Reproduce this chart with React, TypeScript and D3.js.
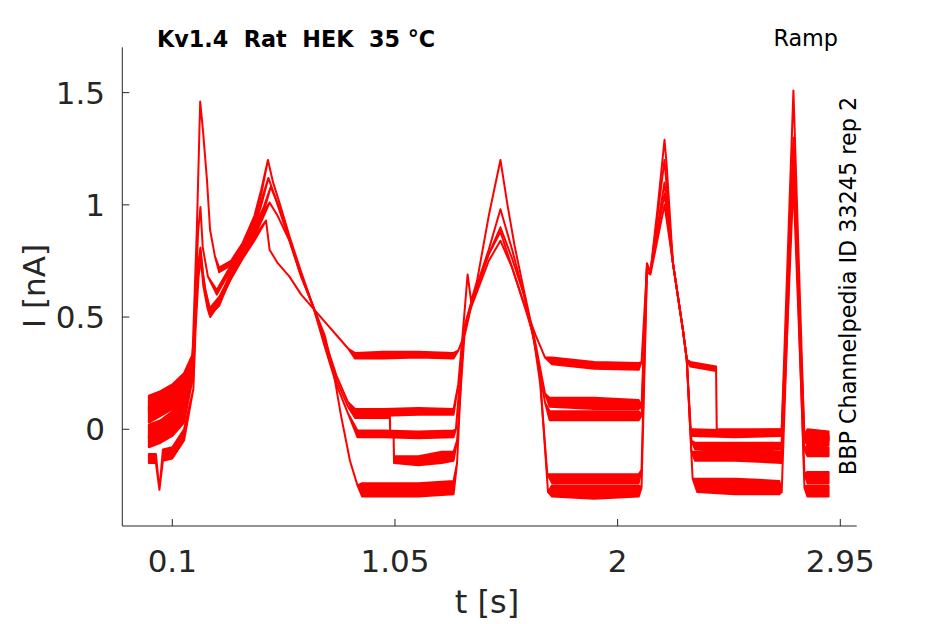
import React from 'react';
import * as d3 from 'd3';

// [t (s), low (nA), high (nA)] — high omitted where the trace is a clean line
type P = [number, number] | [number, number, number];

const xTicks = [0.1, 1.05, 2, 2.95];
const xTickLabels = ['0.1', '1.05', '2', '2.95'];
const yTicks = [0, 0.5, 1, 1.5];
const yTickLabels = ['0', '0.5', '1', '1.5'];

const titleText = 'Kv1.4  Rat  HEK  35 °C';
const protocolText = 'Ramp';
const sideText = 'BBP Channelpedia ID 33245 rep 2';
const xLabel = 't [s]';
const yLabel = 'I [nA]';

// sweep ending on the highest plateaus
const sweep1: P[] = [
  [0.0, 0.08, 0.15], [0.05, 0.1, 0.17], [0.1, 0.13, 0.2], [0.15, 0.18, 0.25], [0.185, 0.3, 0.33],
  [0.197, 0.46], [0.21, 0.72], [0.22, 0.81], [0.23, 0.7], [0.24, 0.62], [0.26, 0.52, 0.54],
  [0.3, 0.57, 0.59], [0.35, 0.67, 0.69], [0.4, 0.76, 0.78], [0.45, 0.84, 0.86], [0.5, 0.93],
  [0.515, 0.8], [0.55, 0.74], [0.6, 0.68], [0.65, 0.6], [0.7, 0.54], [0.75, 0.48], [0.8, 0.42],
  [0.85, 0.36], [0.88, 0.315, 0.34], [1.0, 0.315, 0.345], [1.15, 0.32, 0.345], [1.3, 0.315, 0.34],
  [1.32, 0.35], [1.35, 0.43], [1.38, 0.57], [1.45, 0.78], [1.5, 0.88], [1.55, 0.72], [1.6, 0.56],
  [1.65, 0.42], [1.69, 0.32], [1.72, 0.29, 0.32], [1.9, 0.27, 0.3], [2.09, 0.265, 0.295],
  [2.102, 0.3], [2.125, 0.72], [2.14, 0.7], [2.2, 1.1], [2.236, 0.74], [2.279, 0.44], [2.295, 0.31],
  [2.31, 0.28, 0.3], [2.42, 0.26, 0.28], [2.423, -0.025, 0.0], [2.7, -0.03, 0.0],
  [2.75, 1.2], [2.797, -0.03], [2.81, -0.04, 0.0], [2.9, -0.05, -0.01],
];

// sweep with the tallest peaks
const sweep2: P[] = [
  [0.0, 0.03, 0.1], [0.05, 0.06, 0.12], [0.1, 0.09, 0.15], [0.15, 0.15, 0.21], [0.185, 0.27, 0.29],
  [0.205, 0.9], [0.219, 1.46], [0.231, 1.33], [0.248, 1.11], [0.261, 0.89], [0.282, 0.77],
  [0.3, 0.7, 0.72], [0.35, 0.73, 0.75], [0.4, 0.81, 0.83], [0.45, 0.93, 0.95], [0.48, 1.05, 1.07],
  [0.508, 1.2], [0.53, 1.1], [0.56, 1.0], [0.6, 0.86], [0.65, 0.7], [0.7, 0.55], [0.75, 0.4],
  [0.8, 0.24], [0.85, 0.12], [0.88, 0.065, 0.09], [1.0, 0.06, 0.09], [1.15, 0.065, 0.095],
  [1.3, 0.065, 0.09], [1.32, 0.2], [1.345, 0.5], [1.36, 0.69], [1.375, 0.57], [1.4, 0.66],
  [1.45, 0.95], [1.5, 1.2], [1.53, 1.0], [1.56, 0.82], [1.6, 0.62], [1.65, 0.38], [1.69, 0.16],
  [1.71, 0.1, 0.14], [1.9, 0.09, 0.14], [2.09, 0.09, 0.13], [2.102, 0.1], [2.125, 0.74],
  [2.14, 0.7], [2.17, 0.98], [2.2, 1.29], [2.209, 1.18], [2.236, 0.74], [2.279, 0.44],
  [2.295, 0.31], [2.31, 0.0], [2.32, -0.03, 0.0], [2.5, -0.035, -0.005], [2.7, -0.03, 0.0],
  [2.75, 1.51], [2.797, -0.05], [2.81, -0.07, -0.03], [2.9, -0.07, -0.03],
];

const sweep3: P[] = [
  [0.0, -0.04, 0.02], [0.05, -0.02, 0.04], [0.1, 0.02, 0.08], [0.15, 0.08, 0.14], [0.185, 0.24, 0.26],
  [0.196, 0.48], [0.21, 0.88], [0.22, 0.99], [0.23, 0.81], [0.252, 0.68], [0.29, 0.6, 0.62],
  [0.3, 0.62, 0.64], [0.35, 0.71, 0.73], [0.4, 0.8, 0.82], [0.45, 0.9, 0.92], [0.48, 1.0, 1.02],
  [0.51, 1.12], [0.54, 1.03], [0.6, 0.84], [0.65, 0.68], [0.7, 0.55], [0.75, 0.37], [0.8, 0.2],
  [0.85, 0.07], [0.89, -0.035, -0.005], [1.0, -0.035, -0.005], [1.15, -0.04, -0.01],
  [1.3, -0.035, -0.005], [1.31, 0.0], [1.345, 0.45], [1.38, 0.58], [1.45, 0.8], [1.5, 0.98],
  [1.55, 0.8], [1.6, 0.6], [1.65, 0.36], [1.69, 0.12], [1.71, 0.04, 0.08], [1.9, 0.04, 0.08],
  [2.09, 0.04, 0.08], [2.102, 0.06], [2.125, 0.72], [2.14, 0.7], [2.2, 1.2], [2.236, 0.74],
  [2.279, 0.44], [2.295, 0.31], [2.315, -0.05], [2.33, -0.09, -0.06], [2.5, -0.1, -0.06],
  [2.7, -0.09, -0.06], [2.75, 1.3], [2.797, -0.09], [2.81, -0.12, -0.07], [2.9, -0.12, -0.08],
];

// sweep with the step in the first plateau
const sweep4: P[] = [
  [0.0, -0.08, -0.03], [0.05, -0.06, 0.0], [0.1, -0.03, 0.03], [0.15, 0.03, 0.08], [0.19, 0.24],
  [0.198, 0.46], [0.21, 0.72], [0.22, 0.8], [0.23, 0.7], [0.24, 0.63], [0.26, 0.51, 0.53],
  [0.3, 0.55, 0.57], [0.35, 0.68, 0.7], [0.4, 0.78, 0.8], [0.45, 0.88, 0.9], [0.49, 0.97, 0.99],
  [0.52, 1.08], [0.56, 0.98], [0.6, 0.85], [0.65, 0.69], [0.7, 0.55], [0.75, 0.39], [0.8, 0.22],
  [0.85, 0.1], [0.88, 0.05, 0.08], [1.0, 0.05, 0.08], [1.028, 0.05, 0.08], [1.03, -0.02],
  [1.044, -0.02], [1.046, -0.15, -0.12], [1.15, -0.16, -0.12], [1.25, -0.15, -0.1],
  [1.3, -0.14, -0.1], [1.315, -0.05], [1.35, 0.47], [1.38, 0.58], [1.45, 0.78], [1.5, 0.9],
  [1.55, 0.76], [1.6, 0.6], [1.64, 0.42], [1.67, 0.2], [1.7, -0.2], [1.72, -0.24, -0.2],
  [1.9, -0.24, -0.2], [2.09, -0.24, -0.2], [2.102, -0.18], [2.125, 0.72], [2.14, 0.7],
  [2.2, 1.05], [2.236, 0.74], [2.279, 0.44], [2.295, 0.31], [2.315, -0.1], [2.33, -0.14, -0.1],
  [2.5, -0.14, -0.1], [2.7, -0.15, -0.1], [2.75, 1.1], [2.797, -0.2], [2.81, -0.24, -0.19],
  [2.9, -0.24, -0.19],
];

// sweep ending on the lowest plateaus
const sweep5: P[] = [
  [0.0, -0.15, -0.11], [0.03, -0.15, -0.11], [0.045, -0.27], [0.06, -0.14, -0.09], [0.1, -0.13, -0.08],
  [0.15, -0.05, 0.0], [0.19, 0.18], [0.199, 0.44], [0.212, 0.68], [0.222, 0.76], [0.232, 0.64],
  [0.25, 0.54], [0.262, 0.5, 0.52], [0.3, 0.56, 0.58], [0.35, 0.67, 0.69], [0.4, 0.77, 0.79],
  [0.45, 0.86, 0.88], [0.49, 0.95, 0.97], [0.515, 1.01], [0.55, 0.95], [0.6, 0.84], [0.65, 0.68],
  [0.7, 0.55], [0.75, 0.42], [0.787, 0.26], [0.82, 0.06], [0.858, -0.14], [0.89, -0.25],
  [0.91, -0.3, -0.24], [1.0, -0.3, -0.24], [1.15, -0.3, -0.24], [1.3, -0.29, -0.23],
  [1.315, -0.15], [1.34, 0.4], [1.37, 0.53], [1.45, 0.75], [1.5, 0.84], [1.55, 0.72], [1.6, 0.56],
  [1.64, 0.42], [1.668, 0.25], [1.703, -0.28], [1.72, -0.3, -0.25], [1.9, -0.31, -0.25],
  [2.09, -0.3, -0.25], [2.102, -0.26], [2.125, 0.7], [2.14, 0.69], [2.2, 1.0], [2.236, 0.74],
  [2.279, 0.44], [2.295, 0.31], [2.32, -0.22], [2.34, -0.28, -0.22], [2.5, -0.29, -0.22],
  [2.69, -0.29, -0.23], [2.7, -0.28], [2.75, 1.25], [2.797, -0.26], [2.81, -0.3, -0.25],
  [2.9, -0.3, -0.25],
];

const sweeps = [sweep1, sweep2, sweep3, sweep4, sweep5];

export default function App() {
  const W = 945;
  const H = 624;
  const left = 122.3, right = 856.7, top = 47.3, bottom = 526;
  const x = d3.scaleLinear().domain([-0.1133, 3.02]).range([left, right]);
  const y = d3.scaleLinear().domain([-0.431, 1.702]).range([bottom, top]);
  const area = d3
    .area<P>()
    .x((d) => x(d[0]))
    .y0((d) => y(d[1]))
    .y1((d) => y(d.length > 2 ? (d as number[])[2] : d[1]));

  const axisColor = '#262626';
  const font = 'DejaVu Sans, sans-serif';

  return (
    <svg
      width={W}
      height={H}
      viewBox={`0 0 ${W} ${H}`}
      style={{ position: 'absolute', left: 0, top: 0, background: '#fff' }}
    >
      <rect x={0} y={0} width={W} height={H} fill="#fff" />
      <g>
        {sweeps.map((s, i) => (
          <path
            key={i}
            d={area(s) || ''}
            fill="#ff0000"
            stroke="#ff0000"
            strokeWidth={2}
            strokeLinejoin="round"
          />
        ))}
      </g>
      {/* axes */}
      <g stroke={axisColor} strokeWidth={1} fill="none">
        <line x1={left} x2={right} y1={bottom} y2={bottom} />
        <line x1={left} x2={left} y1={top} y2={bottom} />
        {xTicks.map((t) => (
          <line key={'xt' + t} x1={x(t)} x2={x(t)} y1={bottom} y2={bottom - 7} />
        ))}
        {yTicks.map((t) => (
          <line key={'yt' + t} x1={left} x2={left + 7} y1={y(t)} y2={y(t)} />
        ))}
      </g>
      <g fill={axisColor} fontFamily={font} fontSize={31}>
        {xTicks.map((t, i) => (
          <text key={'xl' + t} x={x(t)} y={572} textAnchor="middle">
            {xTickLabels[i]}
          </text>
        ))}
        {yTicks.map((t, i) => (
          <text key={'yl' + t} x={105} y={y(t) + 11} textAnchor="end">
            {yTickLabels[i]}
          </text>
        ))}
      </g>
      <text x={487} y={613} textAnchor="middle" fontFamily={font} fontSize={32} fill={axisColor}>
        {xLabel}
      </text>
      <text
        transform={`translate(45, 286) rotate(-90)`}
        textAnchor="middle"
        fontFamily={font}
        fontSize={31}
        fill={axisColor}
      >
        {yLabel}
      </text>
      <text
        x={157}
        y={47}
        fontFamily={font}
        fontWeight="bold"
        fontSize={22.3}
        fill="#000"
        style={{ whiteSpace: 'pre' }}
      >
        {titleText}
      </text>
      <text x={838} y={46} textAnchor="end" fontFamily={font} fontSize={22.3} fill="#000">
        {protocolText}
      </text>
      <text
        transform={`translate(856, 286) rotate(-90)`}
        textAnchor="middle"
        fontFamily={font}
        fontSize={22.3}
        fill="#000"
      >
        {sideText}
      </text>
    </svg>
  );
}
